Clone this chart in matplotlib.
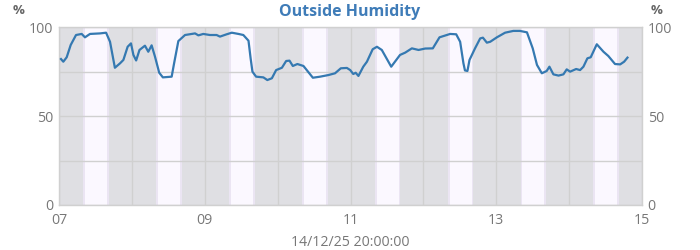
import numpy as np
import matplotlib
matplotlib.use("Agg")
import matplotlib.pyplot as plt
import matplotlib.dates as mdates

plt.rcParams['font.family'] = ['Open Sans', 'DejaVu Sans']

# hours since 2025-12-07 00:00 and outside humidity (%)
hours = [0.66, 1.42, 2.54, 3.85, 5.6, 7.48, 8.56, 10.2, 13.5, 15.5, 16.8, 18.4,
         20.1, 21.2, 22.6, 23.7, 24.5, 25.4, 26.5, 28.3, 29.4, 30.5, 31.6, 33.0,
         34.2, 37.1, 37.9, 39.3, 41.5, 44.8, 45.9, 47.5, 49.7, 51.9, 53.0, 55.2,
         56.9, 59.1, 60.7, 62.4, 63.1, 63.7, 64.9, 67.3, 68.6, 70.1, 71.5, 73.4,
         74.8, 75.9, 77.0, 78.5, 80.5, 83.6, 86.0, 88.7, 90.9, 92.8, 94.8, 95.9,
         96.9, 97.7, 98.6, 100.2, 101.4, 103.3, 104.7, 106.3, 109.4, 112.3, 114.0,
         116.2, 118.4, 120.6, 123.1, 125.3, 128.8, 130.8, 132.1, 133.2, 133.7,
         134.5, 135.2, 137.0, 138.7, 139.6, 140.9, 142.0, 144.2, 146.9, 149.6,
         151.8, 154.1, 156.0, 157.4, 159.0, 160.6, 161.5, 162.8, 164.5, 166.1,
         167.2, 168.3, 170.3, 171.6, 172.7, 174.0, 175.1, 177.1, 179.3, 180.9,
         183.1, 184.8, 186.1, 187.2]
humidity = [82.0, 80.5, 83.0, 89.9, 95.5, 96.1, 94.2, 96.1, 96.4, 96.8, 91.7, 77.1,
            79.6, 81.5, 88.9, 90.8, 84.3, 81.2, 87.1, 89.5, 86.1, 89.7, 83.4, 74.3,
            71.7, 72.1, 79.6, 92.1, 95.5, 96.4, 95.3, 96.1, 95.5, 95.5, 94.6, 95.9,
            96.8, 96.1, 95.5, 92.3, 82.4, 74.9, 72.1, 71.7, 70.2, 71.2, 75.8, 77.1,
            80.9, 81.1, 78.1, 79.2, 78.1, 71.5, 72.1, 73.0, 74.0, 76.8, 77.0, 75.8,
            73.6, 74.3, 72.5, 77.7, 80.5, 87.5, 88.9, 87.1, 77.7, 84.3, 85.6,
            88.0, 87.1, 87.9, 88.0, 94.2, 96.1, 95.9, 91.7, 79.6, 75.6,
            75.3, 81.5, 88.0, 93.6, 94.0, 91.2, 91.7, 94.2, 96.8, 97.8,
            97.8, 97.0, 88.0, 78.7, 74.0, 75.3, 77.7, 73.4, 72.7, 73.4,
            76.2, 74.9, 76.4, 75.8, 77.7, 82.4, 83.0, 90.3, 86.1, 83.7,
            79.2, 79.0, 80.5, 82.8]

days = ["2025-12-07", "2025-12-08", "2025-12-09", "2025-12-10",
        "2025-12-11", "2025-12-12", "2025-12-13", "2025-12-14"]
sunrise_h = 8.6
sunset_h = 15.85
twilight_h = 0.6

base = np.datetime64("2025-12-07T00:00")
times = base + (np.array(hours) * 60).astype("timedelta64[m]")

fig = plt.figure(figsize=(7, 2.5), dpi=100)
ax = fig.add_axes([0.0843, 0.18, 0.8329, 0.712])

night = "#dfdfe3"
twi = "#ebe5f3"
day = "#fbf8ff"
ax.set_facecolor(night)
for d in days:
    d0 = np.datetime64(d + "T00:00")
    def t(h):
        return d0 + np.timedelta64(int(h * 60), "m")
    ax.axvspan(t(sunrise_h - twilight_h), t(sunset_h + twilight_h), color=twi, lw=0, zorder=0.2)
    ax.axvspan(t(sunrise_h), t(sunset_h), color=day, lw=0, zorder=0.3)

ax.plot(times, humidity, color="#3579b1", lw=1.6, zorder=3)

ax.set_xlim(np.datetime64("2025-12-07T00:00"), np.datetime64("2025-12-15T00:00"))
ax.set_ylim(0, 100)
ax.xaxis.set_major_locator(mdates.DayLocator(interval=2))
ax.xaxis.set_minor_locator(mdates.DayLocator())
ax.xaxis.set_major_formatter(mdates.DateFormatter("%d"))
ax.set_yticks([0, 50, 100])
ax.set_yticks([25, 75], minor=True)

ax.set_axisbelow(True)
ax.grid(True, which="both", color="#d0d0d0", lw=1)

for s in ax.spines.values():
    s.set_color("#d0d0d0")
    s.set_linewidth(1)

ax.tick_params(which="both", length=0, colors="#777777", labelsize=10.2)
ax.tick_params(axis="x", pad=5.5)
ax.tick_params(axis="y", pad=4, labelright=True, right=False)

fig.text(0.5, 0.952, "Outside Humidity", ha="center", va="center",
         fontsize=11.5, fontweight="bold", color="#3f7cb8")
fig.text(0.018, 0.96, "%", ha="left", va="center", fontsize=9.5, fontweight="bold", color="#666666")
fig.text(0.93, 0.96, "%", ha="left", va="center", fontsize=9.5, fontweight="bold", color="#666666")
fig.text(0.5, 0.03, "14/12/25 20:00:00", ha="center", va="center", fontsize=10.2, color="#777777")

fig.savefig("out.png", dpi=100)
